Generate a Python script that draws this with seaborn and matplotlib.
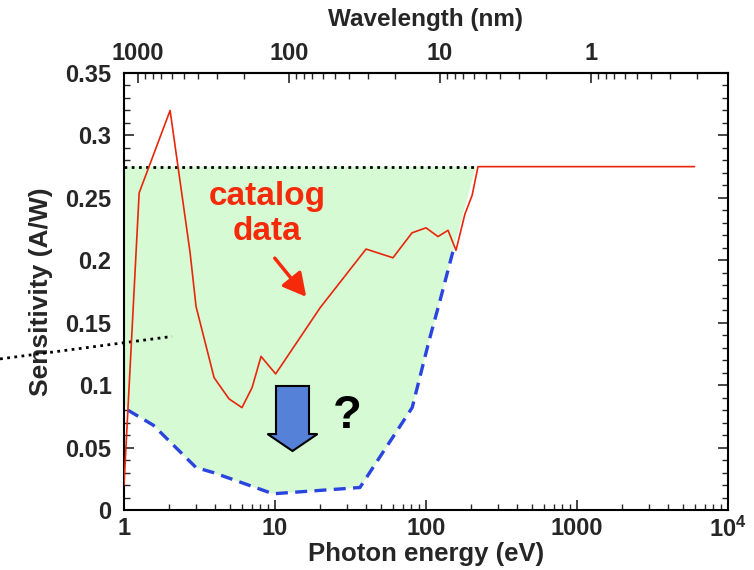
import numpy as np
import pandas as pd
import matplotlib
matplotlib.use("Agg")
import matplotlib.pyplot as plt
import seaborn as sns
from matplotlib.ticker import FixedLocator, FixedFormatter, MultipleLocator, NullFormatter
from matplotlib.patches import FancyArrow

# ---- data ----
red_energy = [1.0, 1.26, 2.02, 2.74, 3.0, 3.95, 4.96, 6.04, 7.05, 8.08, 10.1, 19.9, 40.1, 60.4,
              80.8, 100.0, 120.0, 140.0, 158.0, 181.0, 202.0, 221.0, 6000.0]
red_sens = [0.02, 0.254, 0.32, 0.206, 0.163, 0.106, 0.089, 0.082, 0.098, 0.123, 0.109, 0.162, 0.209,
            0.202, 0.222, 0.226, 0.219, 0.224, 0.208, 0.237, 0.252, 0.275, 0.275]

blue_energy = [1.06, 1.56, 3.0, 3.9, 9.7, 36.5, 81.0, 105.0, 124.0, 153.0]
blue_sens = [0.080, 0.068, 0.034, 0.030, 0.013, 0.018, 0.082, 0.136, 0.168, 0.210]

top_energy = [1.0, 214.0]
top_sens = [0.275, 0.275]

slant_energy = [0.151, 2.08]
slant_sens = [0.121, 0.139]

x_ticks = [1, 10, 100, 1000, 10000]
x_ticklabels = ["1", "10", "100", "1000", r"$\mathbf{10^4}$"]
y_ticks = [0, 0.05, 0.1, 0.15, 0.2, 0.25, 0.3, 0.35]
y_ticklabels = ["0", "0.05", "0.1", "0.15", "0.2", "0.25", "0.3", "0.35"]
wl_ticks = [1000, 100, 10, 1]
wl_ticklabels = ["1000", "100", "10", "1"]

sns.set_style("white")
FONT = ["Liberation Sans", "DejaVu Sans"]
plt.rcParams["font.family"] = FONT
plt.rcParams["mathtext.fontset"] = "custom"
plt.rcParams["mathtext.bf"] = "Liberation Sans:bold"
plt.rcParams["mathtext.rm"] = "Liberation Sans"

fig = plt.figure(figsize=(7.54, 5.70), dpi=100)
ax = fig.add_axes([124 / 754, 1 - 510 / 570, (728 - 124) / 754, (510 - 73) / 570])
ax.set_xscale("log")
ax.set_xlim(1, 1e4)
ax.set_ylim(0, 0.35)

# green shaded area
fill_x = [1.0] + top_energy[1:] + blue_energy[::-1] + [1.0]
fill_y = [0.275, 0.275] + blue_sens[::-1] + [0.086]
ax.fill(fill_x, fill_y, color="#d6fad4", lw=0, zorder=1)

df_red = pd.DataFrame({"E": red_energy, "S": red_sens})
df_blue = pd.DataFrame({"E": blue_energy, "S": blue_sens})
sns.lineplot(data=df_red, x="E", y="S", ax=ax, color="#e8260c", lw=1.2, sort=False,
             estimator=None, zorder=4)
sns.lineplot(data=df_blue, x="E", y="S", ax=ax, color="#2a44e0", lw=2.4, sort=False,
             estimator=None, zorder=3, dashes=False)
ax.lines[-1].set_linestyle((0, (3.6, 2.2)))

ax.plot(top_energy, top_sens, color="black", lw=2, ls=(0, (1, 1.6)), zorder=3)
ax.plot(slant_energy, slant_sens, color="black", lw=2, ls=(0, (1, 1.6)), zorder=3,
        clip_on=False)

# ticks
ax.xaxis.set_major_locator(FixedLocator(x_ticks))
ax.xaxis.set_major_formatter(FixedFormatter(x_ticklabels))
minors = [m * 10 ** d for d in range(0, 4) for m in range(2, 10)]
ax.xaxis.set_minor_locator(FixedLocator(minors))
ax.xaxis.set_minor_formatter(NullFormatter())
ax.yaxis.set_major_locator(FixedLocator(y_ticks))
ax.yaxis.set_major_formatter(FixedFormatter(y_ticklabels))
ax.yaxis.set_minor_locator(MultipleLocator(0.01))
ax.tick_params(axis="both", which="major", direction="in", length=7, width=1.2,
               labelsize=17, bottom=True, left=True, right=True, top=False)
ax.tick_params(axis="both", which="minor", direction="in", length=4, width=1,
               bottom=True, left=True, right=True, top=False)
ax.tick_params(axis="x", which="major", pad=5)
ax.tick_params(axis="y", which="major", pad=9)
for lab in ax.get_xticklabels() + ax.get_yticklabels():
    lab.set_fontweight("bold")
for sp in ax.spines.values():
    sp.set_linewidth(1.5)
    sp.set_color("black")

ax.set_xlabel("Photon energy (eV)", fontsize=18.5, fontweight="bold", labelpad=0)
ax.set_ylabel("Sensitivity (A/W)", fontsize=19, fontweight="bold", labelpad=9)

# top axis: wavelength
conv = lambda v: 1239.84 / np.asarray(v, dtype=float)
sec = ax.secondary_xaxis("top", functions=(conv, conv))
sec.set_xticks(wl_ticks)
sec.set_xticklabels(wl_ticklabels)
wl_minor = [m * 10 ** d for d in range(-1, 3) for m in range(2, 10)]
wl_minor = [w for w in wl_minor if 0.12 < w < 1240]
sec.xaxis.set_minor_locator(FixedLocator(wl_minor))
sec.xaxis.set_minor_formatter(NullFormatter())
sec.tick_params(axis="x", which="major", direction="in", length=7, width=1.2, labelsize=17, pad=6)
sec.tick_params(axis="x", which="minor", direction="in", length=4, width=1)
for lab in sec.get_xticklabels():
    lab.set_fontweight("bold")
sec.set_xlabel("Wavelength (nm)", fontsize=17.5, fontweight="bold", labelpad=11)
sec.spines["top"].set_linewidth(1.5)

fx = lambda px: px / 754
fy = lambda py: 1 - py / 570

# annotations
fig.text(fx(267), fy(214), "catalog\ndata", color="#f52a0a", fontsize=24,
         fontweight="bold", ha="center", va="center", linespacing=1.15)
ax.annotate("", xy=(fx(308), fy(299)), xytext=(fx(273), fy(256)),
            xycoords="figure fraction", textcoords="figure fraction",
            arrowprops=dict(arrowstyle="-|>,head_length=1.4,head_width=0.75",
                            color="#f52a0a", lw=2.5), zorder=6)

# blue down arrow
arr = FancyArrow(fx(292.5), fy(386), 0, fy(451) - fy(386), width=fx(309) - fx(276),
                 head_width=fx(322) - fx(272), head_length=fy(434) - fy(451),
                 length_includes_head=True, transform=fig.transFigure,
                 facecolor="#5582d8", edgecolor="black", lw=1.5, zorder=6)
fig.patches.append(arr)

fig.text(fx(347), fy(416), "?", fontsize=34, fontweight="bold",
         ha="center", va="center", color="black")

fig.savefig("out.png", dpi=100)
